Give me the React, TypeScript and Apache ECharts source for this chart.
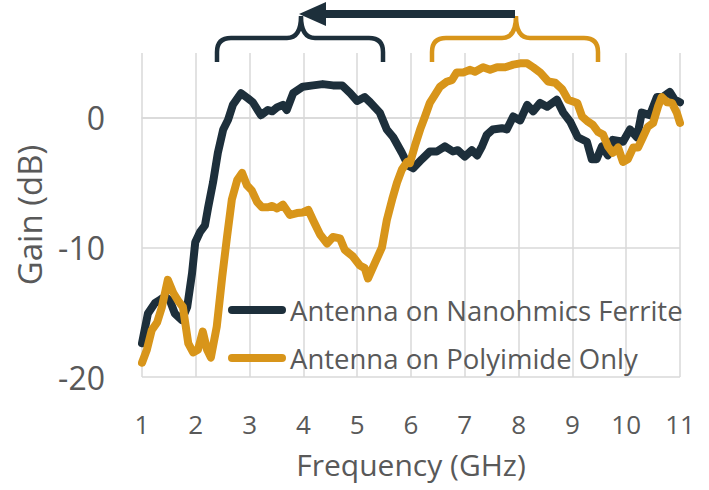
import React, { useEffect, useRef } from "react";
import * as echarts from "echarts";

const ferriteFreq = [1.00, 1.11, 1.24, 1.35, 1.43, 1.52, 1.61, 1.74, 1.84, 1.93, 1.99, 2.08, 2.17, 2.23, 2.32, 2.41, 2.51, 2.60, 2.69, 2.84, 2.97, 3.06, 3.21, 3.34, 3.42, 3.51, 3.62, 3.69, 3.81, 3.99, 4.18, 4.36, 4.55, 4.72, 4.87, 5.00, 5.14, 5.24, 5.42, 5.55, 5.67, 5.83, 5.95, 6.04, 6.20, 6.35, 6.48, 6.63, 6.78, 6.87, 7.00, 7.13, 7.23, 7.32, 7.41, 7.52, 7.69, 7.78, 7.90, 8.03, 8.16, 8.27, 8.40, 8.53, 8.71, 8.83, 8.96, 9.10, 9.27, 9.36, 9.45, 9.55, 9.66, 9.75, 9.94, 10.07, 10.20, 10.29, 10.44, 10.57, 10.68, 10.81, 10.90, 11.00];
const ferriteGain = [-17.4, -15.1, -14.3, -14.0, -13.8, -14.1, -15.1, -15.6, -14.6, -12.0, -9.6, -8.8, -8.3, -6.9, -5.0, -2.7, -0.9, -0.15, 1.0, 1.9, 1.5, 1.2, 0.2, 0.6, 0.5, 0.8, 1.0, 0.6, 1.9, 2.4, 2.5, 2.6, 2.5, 2.5, 1.9, 1.3, 1.6, 1.2, 0.4, -0.9, -1.5, -2.7, -3.7, -3.9, -3.2, -2.6, -2.6, -2.2, -2.6, -2.5, -3.0, -2.5, -2.9, -2.2, -1.3, -0.9, -0.8, -0.9, 0.1, -0.2, 1.0, 0.5, 1.15, 0.85, 1.4, 0.4, -0.3, -1.5, -1.85, -3.2, -3.2, -2.2, -2.9, -1.7, -1.85, -0.9, -1.5, 0.4, 0.2, 1.6, 1.6, 2.0, 1.4, 1.2];

const polyFreq = [1.00, 1.09, 1.18, 1.28, 1.37, 1.48, 1.58, 1.67, 1.76, 1.86, 1.95, 2.04, 2.13, 2.21, 2.28, 2.39, 2.49, 2.58, 2.67, 2.77, 2.86, 2.95, 3.04, 3.14, 3.23, 3.34, 3.42, 3.51, 3.62, 3.75, 3.88, 3.99, 4.09, 4.18, 4.31, 4.44, 4.55, 4.68, 4.77, 4.92, 5.05, 5.14, 5.20, 5.33, 5.46, 5.55, 5.65, 5.74, 5.83, 5.93, 5.98, 6.07, 6.17, 6.26, 6.35, 6.45, 6.54, 6.67, 6.76, 6.85, 6.97, 7.10, 7.19, 7.34, 7.47, 7.60, 7.75, 7.90, 8.03, 8.16, 8.27, 8.40, 8.55, 8.68, 8.81, 8.92, 9.09, 9.18, 9.29, 9.38, 9.48, 9.57, 9.66, 9.75, 9.85, 9.94, 10.03, 10.13, 10.22, 10.31, 10.40, 10.50, 10.59, 10.66, 10.76, 10.85, 10.94, 11.00];
const polyGain = [-18.9, -17.9, -16.4, -15.8, -14.6, -12.5, -13.5, -14.1, -14.6, -17.4, -18.1, -17.9, -16.5, -17.9, -18.5, -16.1, -12.3, -9.2, -6.3, -4.8, -4.25, -5.2, -5.6, -6.5, -6.9, -6.9, -6.8, -7.0, -6.7, -7.5, -7.35, -7.3, -7.1, -7.9, -9.0, -9.7, -9.2, -9.3, -10.2, -10.7, -11.4, -11.6, -12.4, -11.2, -10.0, -7.9, -6.3, -5.0, -4.0, -3.4, -3.5, -2.2, -0.9, 0.1, 1.15, 1.8, 2.4, 2.8, 2.9, 3.5, 3.5, 3.7, 3.55, 3.9, 3.7, 3.9, 3.9, 4.1, 4.2, 4.2, 3.9, 3.5, 2.8, 2.7, 2.2, 1.4, 1.15, 0.1, -0.3, -0.55, -1.1, -1.3, -2.2, -2.7, -2.3, -3.4, -3.2, -2.3, -2.3, -1.5, -0.7, -0.4, 0.85, 1.6, 1.2, 1.15, 0.4, -0.4];

const seriesNames = ["Antenna on Nanohmics Ferrite", "Antenna on Polyimide Only"];
const xTitle = "Frequency (GHz)";
const yTitle = "Gain (dB)";

const DARK = "#1d2f3b";
const ORANGE = "#d8951a";
const TEXT = "#595959";
const GRID = "#d9d9d9";
const FONT = "'Open Sans', 'Noto Sans', sans-serif";

const capsule = "path://M4,0 L54,0 A4,4 0 0 1 54,8 L4,8 A4,4 0 0 1 4,0 Z";

let registered = false;
function registerShapes() {
  if (registered) return;
  registered = true;
  echarts.graphic.registerShape(
    "braceDark",
    echarts.graphic.extendPath(
      "M217,62 L217,52 Q217,38 231,38 L287,38 C297,38 301,30 301,16 C301,30 305,38 315,38 L369,38 Q383,38 383,52 L383,62",
      {}
    ) as any
  );
  echarts.graphic.registerShape(
    "braceOrange",
    echarts.graphic.extendPath(
      "M432,62 L432,52 Q432,38 446,38 L502,38 C512,38 516,30 516,16 C516,30 520,38 530,38 L584,38 Q598,38 598,52 L598,62",
      {}
    ) as any
  );
}

function zip(xs: number[], ys: number[]) {
  return xs.map((x, i) => [x, ys[i]]);
}

export default function App() {
  const ref = useRef<HTMLDivElement>(null);
  useEffect(() => {
    if (!ref.current) return;
    registerShapes();
    const chart = echarts.init(ref.current, undefined, { renderer: "svg" });
    chart.setOption({
      animation: false,
      textStyle: { fontFamily: FONT },
      grid: { left: 142, right: 29, top: 53, bottom: 113 },
      xAxis: {
        type: "value",
        min: 1,
        max: 11,
        interval: 1,
        name: xTitle,
        nameLocation: "middle",
        nameGap: 72,
        nameTextStyle: { color: TEXT, fontSize: 30, lineHeight: 30, fontFamily: FONT },
        axisLine: { show: true, lineStyle: { color: GRID, width: 1.5 } },
        axisTick: { show: false },
        axisLabel: { color: TEXT, fontSize: 26, lineHeight: 26, margin: 34, fontFamily: FONT },
        splitLine: { show: true, lineStyle: { color: GRID, width: 1.5 } },
      },
      yAxis: {
        type: "value",
        min: -20,
        max: 5,
        interval: 10,
        name: yTitle,
        nameLocation: "middle",
        nameGap: 96,
        nameRotate: 90,
        nameTextStyle: { color: TEXT, fontSize: 33, fontFamily: FONT },
        axisLine: { show: false },
        axisTick: { show: false },
        axisLabel: {
          color: TEXT,
          fontSize: 32,
          margin: 37,
          fontFamily: FONT,
          showMaxLabel: false,
          formatter: (v: number) => (v > 0 ? "" : String(v)),
        },
        splitLine: { show: true, showMaxLine: false, lineStyle: { color: GRID, width: 1.5 } },
      },
      legend: {
        orient: "vertical",
        left: 228,
        top: 296,
        padding: 0,
        itemGap: 20,
        itemWidth: 58,
        itemHeight: 8,
        icon: capsule,
        textStyle: { color: TEXT, fontSize: 27.5, fontFamily: FONT, padding: [0, 0, 0, -1] },
        data: [
          { name: seriesNames[0], itemStyle: { color: DARK } },
          { name: seriesNames[1], itemStyle: { color: ORANGE } },
        ],
      },
      series: [
        {
          name: seriesNames[0],
          type: "line",
          data: zip(ferriteFreq, ferriteGain),
          showSymbol: false,
          symbol: "none",
          color: DARK,
          lineStyle: { color: DARK, width: 8, cap: "round", join: "round" },
        },
        {
          name: seriesNames[1],
          type: "line",
          data: zip(polyFreq, polyGain),
          showSymbol: false,
          symbol: "none",
          color: ORANGE,
          lineStyle: { color: ORANGE, width: 8, cap: "round", join: "round" },
        },
      ],
      graphic: [
        {
          type: "braceDark",
          x: 0,
          y: 0,
          style: { stroke: DARK, lineWidth: 4.5, fill: null },
        },
        {
          type: "braceOrange",
          x: 0,
          y: 0,
          style: { stroke: ORANGE, lineWidth: 4.5, fill: null },
        },
        {
          type: "line",
          shape: { x1: 322, y1: 14, x2: 515, y2: 14 },
          style: { stroke: DARK, lineWidth: 8 },
        },
        {
          type: "polygon",
          shape: { points: [[299, 14], [326, 2], [326, 26]] },
          style: { fill: DARK },
        },
      ],
    });
    return () => chart.dispose();
  }, []);
  return (
    <div
      ref={ref}
      style={{ position: "fixed", left: 0, top: 0, width: 709, height: 490, background: "#fff" }}
    />
  );
}
